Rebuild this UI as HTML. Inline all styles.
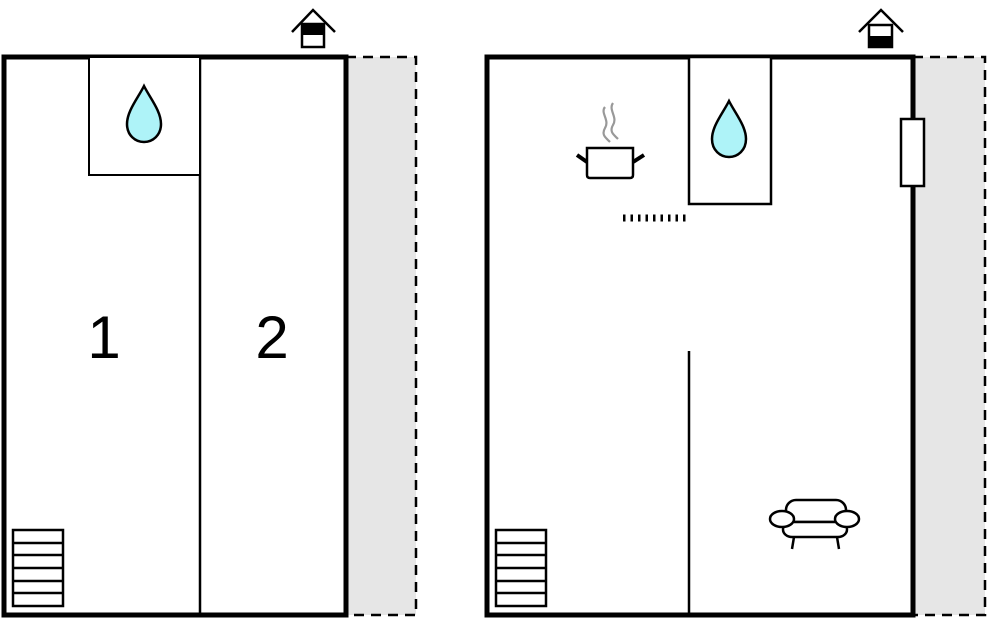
<!DOCTYPE html>
<html><head><meta charset="utf-8"><style>
html,body{margin:0;padding:0;background:#fff;}
svg{display:block;}
</style></head><body>
<svg width="1000" height="618" viewBox="0 0 1000 618" xmlns="http://www.w3.org/2000/svg">
<defs>
<g id="stairs">
<rect x="0" y="0" width="50" height="76" fill="#fff" stroke="#000" stroke-width="2.5"/>
<line x1="0" y1="13" x2="50" y2="13" stroke="#000" stroke-width="2.5"/>
<line x1="0" y1="25" x2="50" y2="25" stroke="#000" stroke-width="2.5"/>
<line x1="0" y1="38" x2="50" y2="38" stroke="#000" stroke-width="2.5"/>
<line x1="0" y1="51" x2="50" y2="51" stroke="#000" stroke-width="2.5"/>
<line x1="0" y1="63" x2="50" y2="63" stroke="#000" stroke-width="2.5"/>
</g>
<path id="drop" d="M0,-28 C-6,-16 -17,-3 -17,10 C-17,21 -9,28 0,28 C9,28 17,21 17,10 C17,-3 6,-16 0,-28 Z" fill="#aef3f8" stroke="#000" stroke-width="2.5"/>
</defs>

<!-- LEFT PLAN -->
<rect x="346" y="57" width="70" height="558" fill="#e6e6e6"/>
<path d="M346,57 H416 V615 H346" fill="none" stroke="#000" stroke-width="2.5" stroke-dasharray="10,7"/>
<rect x="4" y="57" width="342" height="558" fill="#fff" stroke="#000" stroke-width="5"/>
<line x1="200" y1="57" x2="200" y2="615" stroke="#000" stroke-width="2.5"/>
<rect x="89" y="57" width="111" height="118" fill="#fff" stroke="#000" stroke-width="2"/>
<use href="#drop" x="144" y="114"/>
<text x="104" y="358" font-family="Liberation Sans, sans-serif" font-size="60" text-anchor="middle">1</text>
<text x="272" y="358" font-family="Liberation Sans, sans-serif" font-size="60" text-anchor="middle">2</text>
<use href="#stairs" x="13" y="530"/>
<polyline points="292,32 313,10 335,32" fill="none" stroke="#000" stroke-width="2.5"/>
<rect x="302" y="24" width="22" height="23" fill="#fff" stroke="#000" stroke-width="2.5"/>
<rect x="302" y="24" width="22" height="11" fill="#000"/>

<!-- RIGHT PLAN -->
<rect x="913" y="57" width="72" height="558" fill="#e6e6e6"/>
<path d="M913,57 H985 V615 H913" fill="none" stroke="#000" stroke-width="2.5" stroke-dasharray="10,7"/>
<rect x="487" y="57" width="426" height="558" fill="#fff" stroke="#000" stroke-width="5"/>
<rect x="689" y="57" width="82" height="147" fill="#fff" stroke="#000" stroke-width="2.5"/>
<use href="#drop" x="729" y="129"/>
<line x1="689" y1="351" x2="689" y2="615" stroke="#000" stroke-width="2.5"/>
<line x1="623" y1="218" x2="686" y2="218" stroke="#000" stroke-width="7" stroke-dasharray="2.5,5"/>
<path d="M605,107 C600,113 610,120 605,128 C601,135 606,138 610,142" fill="none" stroke="#999" stroke-width="2.2"/>
<path d="M613,103 C608,110 618,117 613,125 C609,132 614,135 618,139" fill="none" stroke="#999" stroke-width="2.2"/>
<path d="M587,148 H633 V175 Q633,178 630,178 H590 Q587,178 587,175 Z" fill="#fff" stroke="#000" stroke-width="2.5"/>
<line x1="577" y1="155" x2="587" y2="162" stroke="#000" stroke-width="4"/>
<line x1="644" y1="155" x2="633" y2="162" stroke="#000" stroke-width="4"/>
<rect x="901" y="119" width="23" height="67" fill="#fff" stroke="#000" stroke-width="2.5"/>
<g fill="#fff" stroke="#000" stroke-width="2.5">
<rect x="786" y="500" width="60" height="22" rx="10"/>
<rect x="783" y="522" width="64" height="15" rx="9"/>
<ellipse cx="782" cy="519" rx="12" ry="8"/>
<ellipse cx="847" cy="519" rx="12" ry="8"/>
<line x1="794" y1="537" x2="792" y2="549"/>
<line x1="837" y1="537" x2="839" y2="549"/>
</g>
<use href="#stairs" x="496" y="530"/>
<polyline points="859,32 881,10 903,32" fill="none" stroke="#000" stroke-width="2.5"/>
<rect x="869" y="25" width="23" height="22" fill="#fff" stroke="#000" stroke-width="2.5"/>
<rect x="869" y="36" width="23" height="11" fill="#000"/>
</svg>
</body></html>
